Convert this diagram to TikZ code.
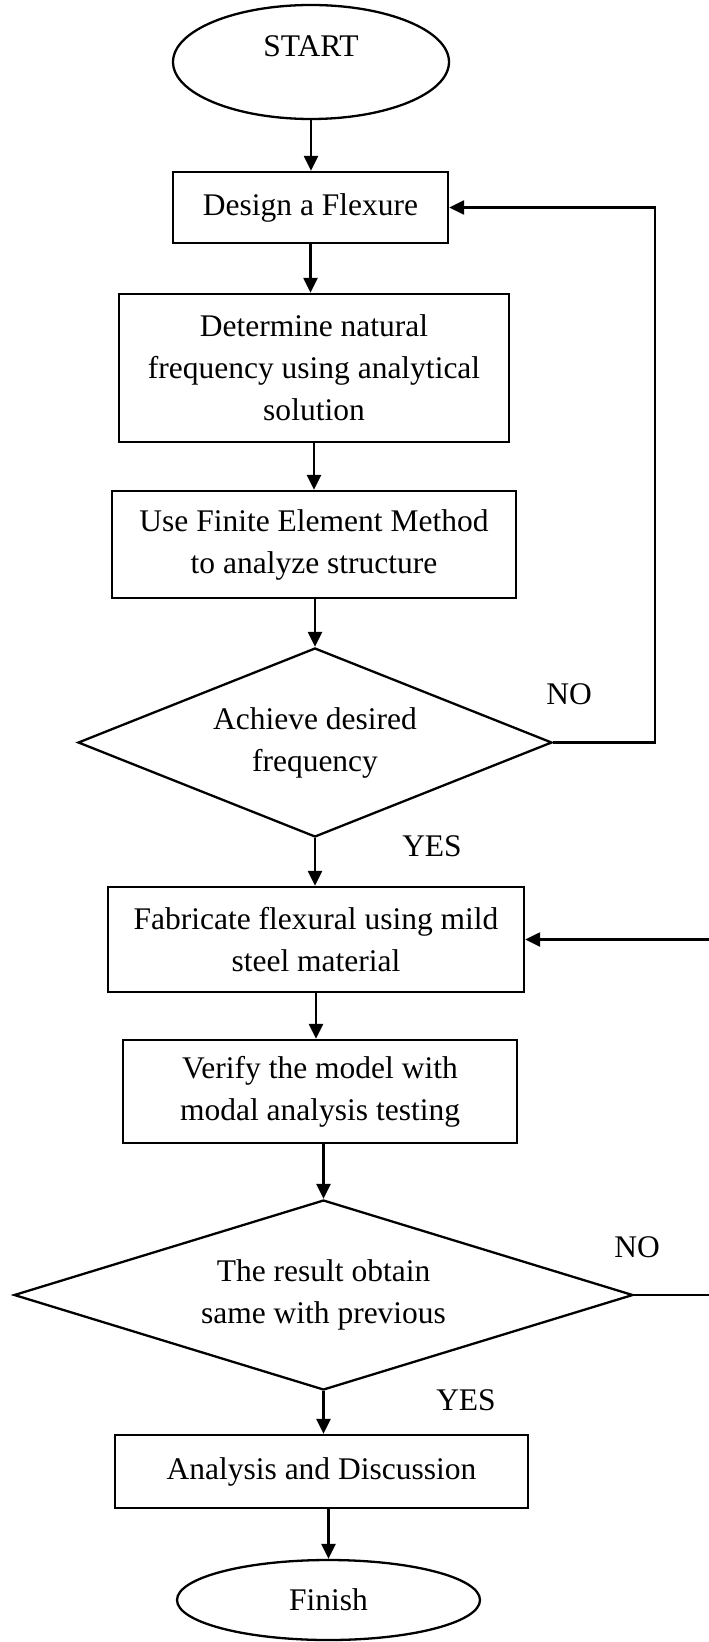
\documentclass[tikz,border=0pt]{standalone}
\usepackage{fontspec}
\setmainfont{Liberation Serif}
\usetikzlibrary{shapes.geometric,arrows.meta}
\begin{document}
\begin{tikzpicture}[x=0.5pt,y=-0.5pt,
 every node/.style={font=\fontsize{15.75}{21}\selectfont},
 proc/.style={draw, line width=1.15pt, rectangle, inner sep=0pt, align=center},
 term/.style={draw, line width=1.15pt, ellipse, inner sep=0pt},
 decis/.style={draw, line width=1.15pt, diamond, inner sep=0pt, align=center},
 arr/.style={line width=1.15pt, -{Triangle[length=7.5pt,width=7pt]}},
 lbl/.style={inner sep=0pt}]
\fill[white] (0,0) rectangle (708,1642);
\useasboundingbox (0,0) rectangle (708,1642);
\node[term, minimum width=138pt, minimum height=57pt] (start) at (311,62) {};
\node[lbl] (starttext) at (311,46) {START};
\node[proc, minimum width=137.5pt, minimum height=35.5pt] (design) at (310.5,207.5) {Design a Flexure};
\node[proc, minimum width=195pt, minimum height=74pt] (determine) at (314,368) {Determine natural\\frequency using analytical\\solution};
\node[proc, minimum width=202pt, minimum height=53.5pt] (fem) at (314,544.5) {Use Finite Element Method\\to analyze structure};
\node[decis, aspect=2.5, minimum width=237pt, minimum height=94.5pt] (d1) at (315,742.5) {Achieve desired\\frequency};
\node[proc, minimum width=208pt, minimum height=52.5pt] (fab) at (316,939.5) {Fabricate flexural using mild\\steel material};
\node[proc, minimum width=197pt, minimum height=51.5pt] (verify) at (320,1091.5) {Verify the model with\\modal analysis testing};
\node[decis, aspect=3, minimum width=309.5pt, minimum height=95pt] (d2) at (323.5,1295) {The result obtain\\same with previous};
\node[proc, minimum width=206.5pt, minimum height=36.5pt] (analysis) at (321.5,1471.5) {Analysis and Discussion};
\node[term, minimum width=151.5pt, minimum height=40pt] (finish) at (328.5,1600) {Finish};
\node[lbl] (no1) at (569,694) {NO};
\node[lbl] (yes1) at (432,846) {YES};
\node[lbl] (no2) at (637,1247) {NO};
\node[lbl] (yes2) at (466,1400) {YES};
\draw[arr] (start.south) -- (start.south |- design.north);
\draw[arr] (design.south) -- (design.south |- determine.north);
\draw[arr] (determine.south) -- (determine.south |- fem.north);
\draw[arr] (fem.south -| d1.north) -- (d1.north);
\draw[arr] (d1.south) -- (d1.south |- fab.north);
\draw[arr] (fab.south) -- (fab.south |- verify.north);
\draw[arr] (verify.south -| d2.north) -- (d2.north);
\draw[arr] (d2.south) -- (d2.south |- analysis.north);
\draw[arr] (analysis.south -| finish.north) -- (finish.north);
\coordinate (r1) at (655,742.5);
\draw[arr] (d1.east) -- (r1) |- (design.east);
\coordinate (r2) at (740,1295);
\draw[arr] (d2.east) -- (r2) |- (fab.east);
\end{tikzpicture}
\end{document}
